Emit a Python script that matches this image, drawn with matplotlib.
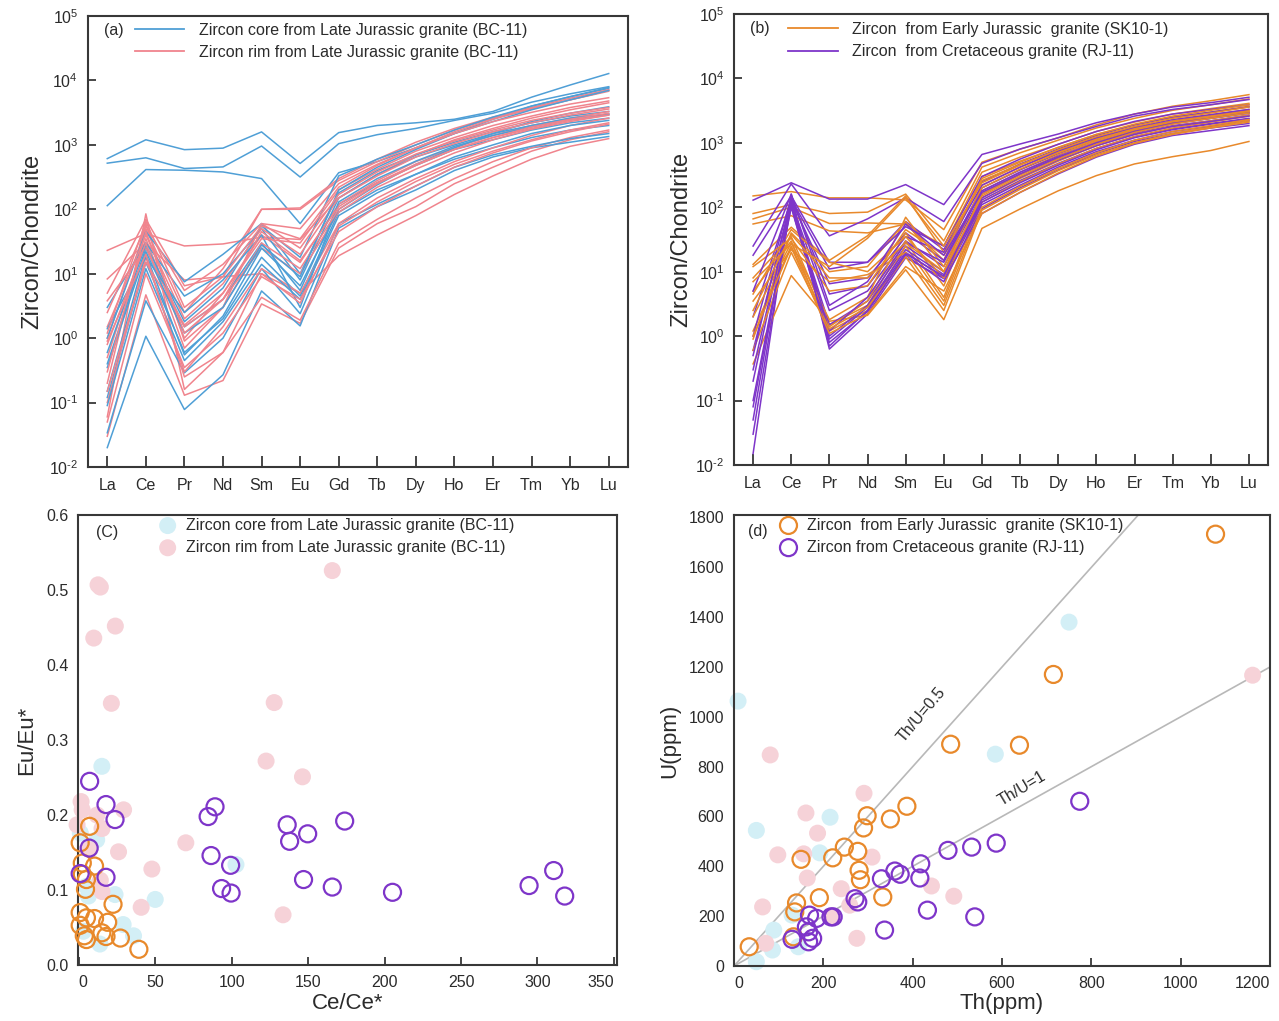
import numpy as np
import matplotlib
matplotlib.use("Agg")
import matplotlib.pyplot as plt
from matplotlib.ticker import NullLocator, FixedLocator
from matplotlib.lines import Line2D

plt.rcParams['font.family'] = ['Liberation Sans', 'DejaVu Sans']
plt.rcParams['mathtext.fontset'] = 'custom'
plt.rcParams['mathtext.rm'] = 'Liberation Sans'
plt.rcParams['axes.unicode_minus'] = False

ree = ["La", "Ce", "Pr", "Nd", "Sm", "Eu", "Gd", "Tb", "Dy", "Ho", "Er", "Tm", "Yb", "Lu"]

# (a) BC-11 zircon cores (blue) and rims (red), chondrite normalised
core_lines = [
    [612, 1200, 843, 890, 1590, 515, 1550, 2000, 2200, 2500, 3300, 5500, 8500, 12800],
    [520, 630, 430, 455, 960, 317, 1045, 1440, 1800, 2400, 3100, 4600, 6200, 8000],
    [114, 414, 404, 380, 300, 60, 370, 550, 900, 1500, 2500, 4000, 5600, 7500],
    [0.02, 1.07, 0.078, 0.27, 5.4, 1.55, 51, 110, 200, 400, 650, 900, 1100, 1350],
    [0.034, 3.8, 0.29, 1.0, 12, 2.4, 60, 120, 230, 450, 700, 950, 1250, 1500],
    [0.12, 15, 0.6, 2.0, 18, 4.5, 90, 200, 350, 600, 900, 1300, 1700, 2000],
    [0.4, 25, 1.5, 4, 30, 5.5, 120, 260, 480, 850, 1200, 1700, 2200, 2600],
    [1.0, 45, 7.5, 20, 60, 10, 180, 400, 700, 1100, 1600, 2200, 2800, 3300],
    [3.0, 30, 4.5, 10, 50, 8, 150, 350, 650, 1000, 1500, 2000, 2600, 3000],
    [0.15, 20, 0.55, 2.2, 25, 6.5, 100, 240, 500, 900, 1500, 2300, 3100, 3900],
    [0.6, 28, 1.8, 6, 55, 18, 330, 600, 1000, 1700, 2700, 4000, 5600, 7800],
    [1.4, 18, 2.5, 8, 40, 3, 130, 300, 560, 950, 1400, 1900, 2500, 3000],
    [0.09, 12, 0.45, 1.8, 14, 4, 80, 180, 350, 650, 1000, 1500, 2000, 2400],
    [0.35, 22, 1.2, 3, 28, 9, 200, 450, 850, 1500, 2300, 3500, 5000, 7000],
]
rim_lines = [
    [23, 42, 27, 29, 37, 34, 150, 350, 700, 1200, 1800, 2600, 3500, 4500],
    [8.3, 30, 8, 9, 10, 5, 19, 40, 80, 170, 330, 600, 950, 1250],
    [0.03, 4.7, 0.13, 0.22, 3.4, 1.7, 25, 60, 110, 250, 450, 800, 1200, 1600],
    [0.06, 85, 0.16, 0.6, 4.3, 1.9, 30, 70, 150, 300, 550, 900, 1300, 1700],
    [0.2, 60, 0.9, 3, 60, 50, 250, 500, 900, 1600, 2500, 3600, 5000, 7000],
    [5, 70, 6.5, 9, 100, 105, 300, 600, 1100, 1800, 2700, 3800, 5300, 7200],
    [1.0, 50, 2.5, 12, 100, 100, 280, 550, 1000, 1700, 2600, 3700, 5000, 6800],
    [0.5, 35, 1.0, 5, 40, 15, 120, 280, 550, 900, 1400, 2000, 2600, 3300],
    [3.8, 25, 1.5, 4, 25, 10, 90, 220, 420, 750, 1200, 1750, 2300, 2900],
    [0.1, 18, 0.3, 1.5, 12, 5, 60, 150, 300, 550, 900, 1400, 2000, 2600],
    [1.5, 40, 2.0, 7, 50, 20, 150, 330, 650, 1050, 1600, 2200, 2900, 3600],
    [0.8, 30, 0.7, 3, 30, 12, 100, 250, 480, 850, 1300, 1900, 2500, 3100],
    [0.15, 15, 1.6, 5, 35, 30, 200, 420, 800, 1300, 2000, 2800, 3800, 4800],
    [2.5, 55, 5.5, 14, 60, 25, 170, 380, 720, 1150, 1700, 2400, 3100, 3800],
    [0.05, 10, 0.35, 1.2, 9, 4, 45, 110, 230, 450, 750, 1150, 1600, 2100],
    [0.3, 45, 1.2, 4, 45, 16, 110, 260, 500, 850, 1300, 1800, 2400, 2900],
    [0.9, 20, 0.25, 0.6, 10, 3.5, 55, 130, 270, 500, 800, 1200, 1700, 2200],
    [1.2, 65, 3, 9, 55, 35, 220, 480, 900, 1500, 2300, 3200, 4300, 5400],
]

# (b) SK10-1 (orange) and RJ-11 (purple)
sk_lines = [
    [150, 175, 140, 140, 130, 45, 500, 800, 1200, 1900, 2800, 3700, 4500, 5600],
    [80, 110, 80, 84, 160, 30, 420, 700, 1100, 1700, 2400, 3200, 3900, 4800],
    [66, 100, 56, 57, 55, 25, 350, 600, 950, 1500, 2100, 2800, 3400, 4100],
    [55, 74, 43, 40, 55, 15, 300, 520, 850, 1350, 1900, 2500, 3000, 3700],
    [13, 49, 15, 36, 150, 20, 260, 460, 760, 1200, 1700, 2200, 2700, 3300],
    [0.37, 8.7, 1.7, 2.1, 10.7, 1.8, 47, 94, 180, 310, 470, 610, 760, 1050],
    [8, 35, 1.5, 3, 30, 4, 140, 280, 520, 900, 1350, 1800, 2200, 2700],
    [5, 30, 1.2, 2.5, 25, 3.5, 120, 250, 470, 820, 1250, 1700, 2100, 2600],
    [1.2, 25, 1.4, 3.5, 40, 6, 180, 350, 650, 1050, 1550, 2050, 2500, 3100],
    [0.9, 40, 10, 12, 60, 10, 220, 420, 720, 1150, 1650, 2150, 2650, 3200],
    [3.5, 22, 7, 9, 20, 3, 100, 210, 400, 700, 1100, 1500, 1850, 2300],
    [2, 28, 1.8, 4, 70, 12, 200, 390, 700, 1100, 1600, 2100, 2550, 3100],
    [0.6, 20, 1.3, 2.8, 17, 2.5, 90, 190, 370, 650, 1000, 1400, 1750, 2200],
    [4.5, 45, 14, 10, 35, 8, 160, 320, 600, 1000, 1500, 2000, 2450, 3000],
    [12, 33, 5, 6, 45, 18, 280, 500, 850, 1350, 1950, 2600, 3200, 3900],
    [7, 27, 12, 33, 140, 25, 240, 450, 780, 1250, 1800, 2400, 2900, 3600],
    [1.0, 24, 1.1, 2.2, 12, 5, 80, 170, 340, 620, 980, 1350, 1700, 2100],
    [2.5, 38, 8, 8, 28, 10, 150, 300, 560, 950, 1450, 1950, 2400, 2900],
]
rj_lines = [
    [129, 240, 134, 134, 225, 110, 660, 960, 1370, 2050, 2800, 3600, 4200, 5100],
    [0.015, 160, 0.63, 2.2, 16.5, 7.8, 80, 170, 330, 600, 950, 1300, 1550, 1850],
    [25, 230, 36, 66, 140, 60, 480, 800, 1200, 1800, 2600, 3300, 3900, 4700],
    [18, 150, 14, 14, 60, 22, 250, 470, 800, 1300, 1900, 2500, 3000, 3600],
    [2.0, 130, 6.5, 8, 40, 15, 200, 380, 680, 1100, 1600, 2100, 2500, 3000],
    [0.6, 120, 2.5, 5, 30, 12, 160, 320, 580, 950, 1400, 1850, 2200, 2700],
    [0.3, 110, 1.5, 3.5, 25, 10, 130, 260, 480, 820, 1250, 1650, 2000, 2400],
    [0.1, 100, 0.9, 2.8, 20, 8, 110, 220, 420, 730, 1100, 1500, 1800, 2200],
    [0.05, 140, 0.7, 2.5, 18, 7, 95, 200, 380, 680, 1050, 1400, 1700, 2000],
    [0.03, 125, 1.0, 3, 22, 9, 120, 240, 450, 780, 1200, 1600, 1950, 2350],
    [1.0, 145, 4.5, 6, 35, 20, 220, 420, 750, 1200, 1750, 2300, 2750, 3300],
    [0.2, 115, 1.2, 4, 28, 14, 180, 350, 620, 1000, 1500, 2000, 2400, 2900],
    [0.5, 135, 11, 14, 50, 25, 300, 560, 950, 1500, 2150, 2800, 3300, 3900],
    [0.08, 105, 0.8, 2.4, 19, 8.5, 140, 290, 540, 900, 1350, 1800, 2150, 2600],
    [5, 160, 3, 7, 55, 18, 170, 330, 600, 1000, 1500, 2000, 2400, 2900],
]

# (c) Ce/Ce* vs Eu/Eu*
core_ce = [15.1, 1, 11.7, 6.3, 23.7, 50, 29, 35.8, 13.8, 102.8, 5, 3]
core_eu = [0.265, 0.176, 0.167, 0.092, 0.094, 0.0875, 0.054, 0.039, 0.028, 0.134, 0.105, 0.045]
rim_ce = [12.6, 14.1, 9.8, 23.9, 21.3, 165.8, 127.8, 122.5, 146.3, 70, 47.8, 40.8, 133.6,
          1.5, 2.2, 29.3, 11.9, -1.1, 15.2, 26, 14.1, 15.2, 6.9]
rim_eu = [0.507, 0.504, 0.436, 0.452, 0.349, 0.526, 0.350, 0.272, 0.251, 0.163, 0.128, 0.077, 0.067,
          0.218, 0.207, 0.207, 0.200, 0.187, 0.182, 0.151, 0.113, 0.098, 0.154]
sk_ce = [7.1, 0.9, 2.3, 10.3, 2.3, 5, 4.4, 22.4, 0.9, 0.9, 5, 10.3, 18.9, 3.6, 15.1, 17.8, 27.2, 39.3, 5]
sk_eu = [0.185, 0.163, 0.136, 0.132, 0.121, 0.114, 0.101, 0.081, 0.070, 0.053, 0.063, 0.062, 0.057,
         0.039, 0.043, 0.038, 0.036, 0.021, 0.034]
rj_ce = [7.1, 17.8, 23.7, 6.8, 0.9, 17.8, 84.6, 89.1, 86.5, 99.3, 93.4, 99.6, 136.3, 137.9, 149.7,
         173.9, 147, 165.8, 205.2, 294.5, 310.6, 317.8]
rj_eu = [0.245, 0.214, 0.194, 0.156, 0.122, 0.117, 0.198, 0.211, 0.146, 0.133, 0.102, 0.096, 0.187,
         0.165, 0.175, 0.192, 0.114, 0.104, 0.097, 0.106, 0.126, 0.092]

# (d) Th vs U (ppm)
core_th = [750, 9, 585, 50, 215, 192, 130, 89, 86, 144, 50]
core_u = [1380, 1063, 850, 544, 597, 454, 204, 144, 64, 77, 17]
rim_th = [1161, 81, 291, 161, 187, 98, 156, 309, 164, 240, 442, 492, 64, 259, 275, 71, 222]
rim_u = [1167, 847, 693, 614, 533, 446, 450, 437, 353, 310, 321, 280, 237, 244, 111, 91, 197]
sk_th = [1078, 715, 485, 639, 387, 298, 350, 290, 247, 277, 221, 150, 280, 283, 191, 333, 140, 136, 133, 34]
sk_u = [1733, 1170, 890, 886, 641, 603, 590, 554, 477, 460, 434, 428, 384, 346, 274, 277, 253, 217, 117, 77]
rj_th = [774, 587, 532, 479, 418, 416, 360, 372, 330, 271, 277, 433, 539, 337, 217, 222, 185, 169,
         162, 130, 167, 176, 167]
rj_u = [661, 493, 477, 464, 410, 353, 381, 368, 350, 270, 257, 224, 197, 144, 197, 197, 191, 204,
        157, 107, 97, 111, 137]

blue = '#4f9fd6'
red = '#f0848d'
orange = '#e8892b'
purple = '#7e35c9'
lightblue = '#d3eff6'
pink = '#f6d2d8'
frame = '#383838'
txt = '#2b2b2b'

fig = plt.figure(figsize=(12.79, 10.21), dpi=100)
ax_a = fig.add_axes([0.0688, 0.5426, 0.4222, 0.4417])
ax_b = fig.add_axes([0.5739, 0.5446, 0.4175, 0.4417])
ax_c = fig.add_axes([0.0610, 0.0548, 0.4214, 0.4407])
ax_d = fig.add_axes([0.5739, 0.0539, 0.4191, 0.4417])


def style(ax):
    for s in ax.spines.values():
        s.set_color(frame)
        s.set_linewidth(1.5)
    ax.tick_params(direction='in', length=6, width=1.3, color=frame,
                   labelsize=11.5, labelcolor=txt, pad=7)


def ree_panel(ax, groups, colors, labels, tag, anchor):
    x = np.arange(len(ree))
    n = max(len(g) for g in groups)
    for i in range(n):
        for g, c in zip(groups, colors):
            if i < len(g):
                ax.plot(x, g[i], color=c, lw=1.1)
    ax.set_yscale('log')
    ax.set_ylim(1e-2, 1e5)
    ax.set_xlim(-0.5, 13.5)
    exps = list(range(-2, 6))
    ax.yaxis.set_major_locator(FixedLocator([10.0 ** k for k in exps]))
    ax.yaxis.set_minor_locator(NullLocator())
    ax.set_yticklabels([r'$10^{\text{%d}}$' % k for k in exps])
    ax.set_xticks(x)
    ax.set_xticklabels(ree)
    style(ax)
    ax.tick_params(axis='x', length=8, pad=8)
    ax.set_ylabel('Zircon/Chondrite', fontsize=17, color=txt, labelpad=4)
    handles = [Line2D([], [], color=c, lw=1.3) for c in colors]
    ax.legend(handles, labels, loc='upper left', bbox_to_anchor=anchor, frameon=False,
              fontsize=11.5, handlelength=3.1, handletextpad=0.9, labelspacing=0.45,
              labelcolor=txt)
    ax.text(0.03, 0.968, tag, transform=ax.transAxes, fontsize=11.5, color=txt, va='center')


ree_panel(ax_a, [core_lines, rim_lines], [blue, red],
          ['Zircon core from Late Jurassic granite (BC-11)',
           'Zircon rim from Late Jurassic granite (BC-11)'], '(a)', (0.06, 1.017))
ree_panel(ax_b, [sk_lines, rj_lines], [orange, purple],
          ['Zircon  from Early Jurassic  granite (SK10-1)',
           'Zircon  from Cretaceous granite (RJ-11)'], '(b)', (0.075, 1.014))
ax_b.yaxis.labelpad = 2


def end_labels(ax):
    labs = ax.get_xticklabels()
    labs[0].set_horizontalalignment('left')
    labs[-1].set_horizontalalignment('right')


# (c)
ax_c.scatter(core_ce, core_eu, s=150, color=lightblue, edgecolors='none', label='Zircon core from Late Jurassic granite (BC-11)', clip_on=False, zorder=2)
ax_c.scatter(rim_ce, rim_eu, s=150, color=pink, edgecolors='none', label='Zircon rim from Late Jurassic granite (BC-11)', clip_on=False, zorder=2)
ax_c.scatter(sk_ce, sk_eu, s=150, facecolors='none', edgecolors=orange, linewidths=1.6, clip_on=False, zorder=3)
ax_c.scatter(rj_ce, rj_eu, s=150, facecolors='none', edgecolors=purple, linewidths=1.6, clip_on=False, zorder=3)
ax_c.set_xlim(-0.5, 352)
ax_c.set_ylim(0, 0.6)
ax_c.set_xticks(np.arange(0, 351, 50))
ax_c.set_yticks(np.arange(0, 0.61, 0.1))
ax_c.set_yticklabels(['%.1f' % v for v in np.arange(0, 0.61, 0.1)])
style(ax_c)
ax_c.tick_params(axis='y', length=0)
end_labels(ax_c)
ax_c.set_xlabel('Ce/Ce*', fontsize=16, color=txt, labelpad=2)
ax_c.set_ylabel('Eu/Eu*', fontsize=16, color=txt, labelpad=6)
ax_c.legend(loc='upper left', bbox_to_anchor=(0.11, 1.026), frameon=False, fontsize=11.5,
            handletextpad=0.15, labelspacing=0.45, labelcolor=txt)
ax_c.text(0.033, 0.962, '(C)', transform=ax_c.transAxes, fontsize=11.5, color=txt, va='center')

# (d)
th_line = np.array([0, 1200])
ax_d.plot(th_line, th_line * 2, color='#b8b8b8', lw=1.2, zorder=1)
ax_d.plot(th_line, th_line * 1, color='#b8b8b8', lw=1.2, zorder=1)
ax_d.scatter(core_th, core_u, s=150, color=lightblue, edgecolors='none', clip_on=False, zorder=2)
ax_d.scatter(rim_th, rim_u, s=150, color=pink, edgecolors='none', clip_on=False, zorder=2)
ax_d.scatter(sk_th, sk_u, s=150, facecolors='none', edgecolors=orange, linewidths=1.6,
             label='Zircon  from Early Jurassic  granite (SK10-1)', clip_on=False, zorder=3)
ax_d.scatter(rj_th, rj_u, s=150, facecolors='none', edgecolors=purple, linewidths=1.6,
             label='Zircon from Cretaceous granite (RJ-11)', clip_on=False, zorder=3)
ax_d.set_xlim(0, 1200)
ax_d.set_ylim(0, 1810)
ax_d.set_xticks(np.arange(0, 1201, 200))
ax_d.set_yticks(np.arange(0, 1801, 200))
style(ax_d)
ax_d.tick_params(axis='y', length=0)
end_labels(ax_d)
ax_d.text(419, 1010, 'Th/U=0.5', rotation=50, fontsize=11.5, color=txt, ha='center', va='center')
ax_d.text(644, 712, 'Th/U=1', rotation=31, fontsize=11.5, color=txt, ha='center', va='center')
ax_d.set_xlabel('Th(ppm)', fontsize=16, color=txt, labelpad=2)
ax_d.set_ylabel('U(ppm)', fontsize=16, color=txt, labelpad=6)
ax_d.legend(loc='upper left', bbox_to_anchor=(0.045, 1.026), frameon=False, fontsize=11.5,
            handletextpad=0.15, labelspacing=0.45, labelcolor=txt)
ax_d.text(0.026, 0.963, '(d)', transform=ax_d.transAxes, fontsize=11.5, color=txt, va='center')

fig.savefig('out.png', dpi=100)
